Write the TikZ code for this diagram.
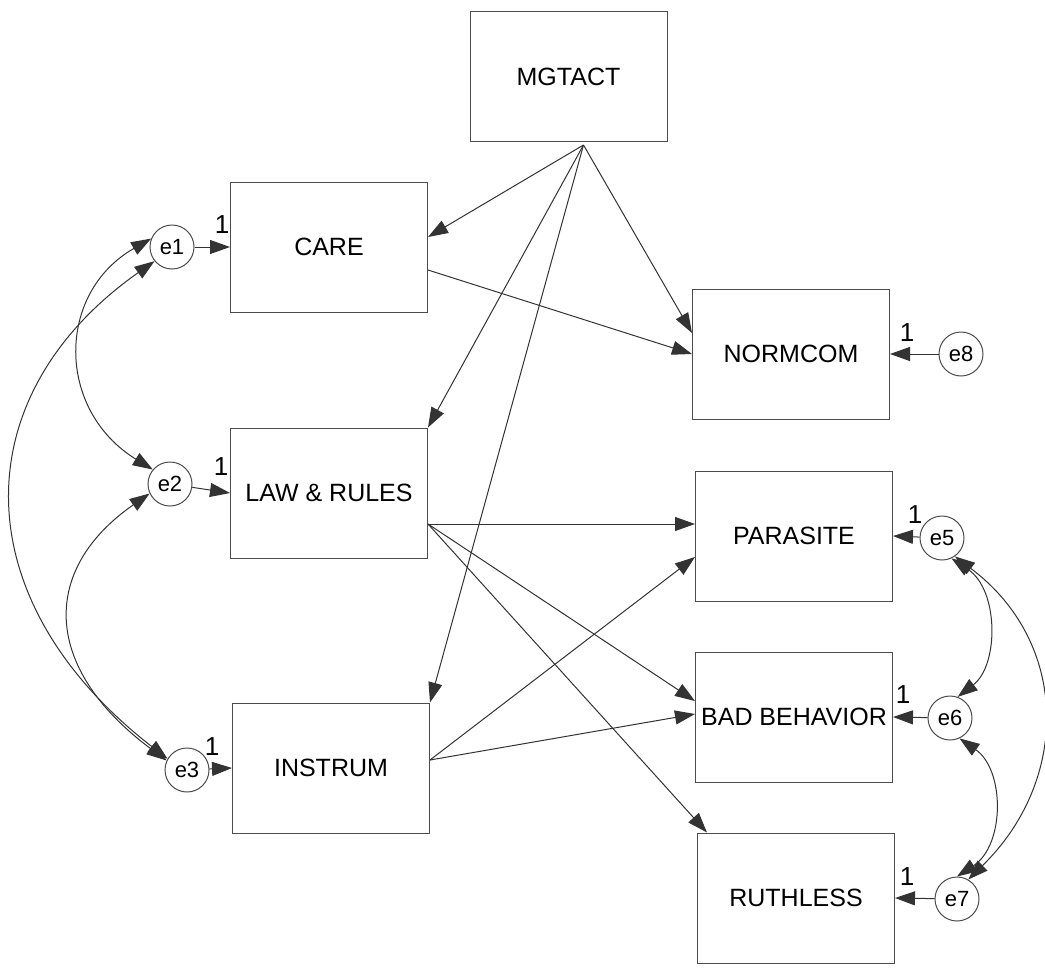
\documentclass[tikz,border=0pt]{standalone}
\usepackage{fontspec}
\setmainfont{Liberation Sans}
\usetikzlibrary{arrows.meta}
\tikzset{
  var/.style={rectangle, draw=black!70, line width=0.5pt, minimum width=98.5pt,
              minimum height=65pt, inner sep=0pt, font=\fontsize{12.5}{14}\selectfont},
  err/.style={circle, draw=black!70, line width=0.5pt, minimum size=22pt,
              inner sep=0pt, font=\fontsize{11}{12}\selectfont},
  reg/.style={draw=black!80, line width=0.5pt, -{Triangle[length=10pt,width=7pt]}},
  cov/.style={draw=black!80, line width=0.5pt,
              {Triangle[length=10pt,width=7pt]}-{Triangle[length=10pt,width=7pt]}},
  fixlab/.style={font=\fontsize{13}{15}\selectfont, inner sep=0pt},
}
\begin{document}
\begin{tikzpicture}[x=0.5pt, y=-0.5pt]
  \useasboundingbox (0,0) rectangle (1045,975);
  % observed variables
  \node[var] (mgtact) at (568.5,76.5) {MGTACT};
  \node[var] (care) at (329,247) {CARE};
  \node[var] (law) at (329,493) {LAW \& RULES};
  \node[var] (instrum) at (331,768) {INSTRUM};
  \node[var] (normcom) at (791,354) {NORMCOM};
  \node[var] (parasite) at (794,536) {PARASITE};
  \node[var] (badbeh) at (794,717) {BAD BEHAVIOR};
  \node[var] (ruthless) at (796,898) {RUTHLESS};
  % error terms
  \node[err] (e1) at (172,247) {e1};
  \node[err] (e2) at (170,484) {e2};
  \node[err] (e3) at (187,770) {e3};
  \node[err] (e8) at (961,354) {e8};
  \node[err] (e5) at (942,538) {e5};
  \node[err] (e6) at (950,718) {e6};
  \node[err] (e7) at (957,899) {e7};
  % paths
  \coordinate (mgsrc) at ([shift={(15,3)}]mgtact.south);
  \draw[reg] (mgsrc) -- ([shift={(0,-10)}]care.east);
  \draw[reg] (mgsrc) -- ([shift={(0,-21)}]normcom.west);
  \draw[reg] (mgsrc) -- (law.north east);
  \draw[reg] (mgsrc) -- (instrum.north east);
  \draw[reg] ([shift={(0,23)}]care.east) -- (normcom.west);
  \coordinate (lawsrc) at ([shift={(0,31)}]law.east);
  \draw[reg] (lawsrc) -- ([shift={(0,-12)}]parasite.west);
  \draw[reg] (lawsrc) -- ([shift={(0,-16)}]badbeh.west);
  \draw[reg] (lawsrc) -- ([shift={(10,0)}]ruthless.north west);
  \coordinate (inssrc) at ([shift={(0,-8)}]instrum.east);
  \draw[reg] (inssrc) -- ([shift={(0,21)}]parasite.west);
  \draw[reg] (inssrc) -- ([shift={(0,-3)}]badbeh.west);
  % error paths, fixed to 1
  \draw[reg] (e1) -- (care.west);
  \draw[reg] (e2) -- (law.west);
  \draw[reg] (e3) -- (instrum.west);
  \draw[reg] (e8) -- (normcom.east);
  \draw[reg] (e5) -- (parasite.east);
  \draw[reg] (e6) -- (badbeh.east);
  \draw[reg] (e7) -- (ruthless.east);
  \node[fixlab] (one1) at ([shift={(-8,-22)}]care.west) {1};
  \node[fixlab] (one2) at ([shift={(-9,-26)}]law.west) {1};
  \node[fixlab] (one3) at ([shift={(-20,-21)}]instrum.west) {1};
  \node[fixlab] (one8) at ([shift={(17,-21)}]normcom.east) {1};
  \node[fixlab] (one5) at ([shift={(22,-21)}]parasite.east) {1};
  \node[fixlab] (one6) at ([shift={(10,-22)}]badbeh.east) {1};
  \node[fixlab] (one7) at ([shift={(12,-21)}]ruthless.east) {1};
  % covariances
  \draw[cov] (e1.158) .. controls (56,293) and (56,410) .. (e2.140);
  \draw[cov] (e1.219) .. controls (-37,396) and (-37,600) .. (e3.150);
  \draw[cov] (e2.205) .. controls (41,569) and (41,667) .. (e3.155);
  \draw[cov] (e5.295) .. controls (999,590) and (999,665) .. (e6.70);
  \draw[cov] (e6.295) .. controls (1005,770) and (1005,845) .. (e7.90);
  \draw[cov] (e5.305) .. controls (1070,643) and (1070,780) .. (e7.60);
\end{tikzpicture}
\end{document}
